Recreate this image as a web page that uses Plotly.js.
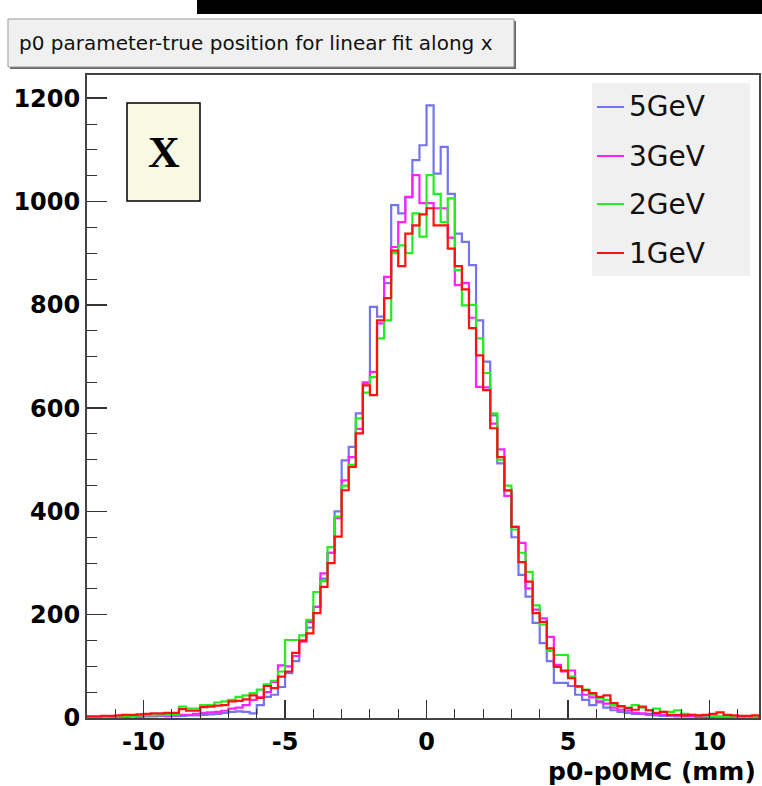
<!DOCTYPE html>
<html>
<head>
<meta charset="utf-8">
<script src="https://cdn.plot.ly/plotly-3.0.1.min.js"></script>
<style>html,body{margin:0;padding:0;background:#fff;}#chart{width:762px;height:786px;}</style>
</head>
<body>
<div id="chart"></div>
<script>
// ---- data (bin contents, bins of 0.25 mm from -12 to 12) ----
const binLow = -12;
const binWidth = 0.25;
const seriesNames = ["5GeV", "3GeV", "2GeV", "1GeV"];
const counts5GeV = [1,1,2,1,2,2,3,2,3,3,
 4,3,4,4,5,5,6,7,8,10,
 12,13,12,9,25,41,45,60,87,110,
 150,175,215,270,320,400,499,525,590,648,
 796,777,842,993,977,1008,1080,1109,1186,1054,
 1106,1015,938,922,877,770,690,586,493,440,
 350,277,235,184,145,110,68,68,62,45,
 35,25,30,20,15,12,10,8,8,6,
 5,4,4,3,3,3,2,2,2,2,
 2,2,1,1,1,1];
const counts3GeV = [2,2,2,3,3,2,3,3,4,4,
 5,5,5,6,6,8,10,11,12,14,
 18,20,25,35,40,50,70,102,100,120,
 148,186,215,280,320,387,460,505,560,650,
 670,764,854,912,960,1009,1051,997,997,987,
 987,930,838,842,775,641,640,570,520,430,
 370,339,251,210,193,157,103,90,92,62,
 45,40,32,28,20,16,14,10,9,8,
 7,6,5,5,4,4,3,3,3,2,
 2,2,2,2,1,1];
const counts2GeV = [1,2,2,3,3,4,4,5,5,5,
 6,6,7,22,18,18,25,25,30,32,
 35,41,44,48,55,65,72,90,151,151,
 160,190,244,265,331,390,450,490,580,630,
 660,735,770,900,915,900,977,932,1051,1015,
 960,1006,867,799,800,735,668,590,500,450,
 365,320,283,218,181,130,122,122,80,60,
 55,45,38,35,25,22,20,25,20,15,
 18,12,12,15,8,6,5,5,4,3,
 3,3,2,2,2,2];
const counts1GeV = [3,3,4,4,5,6,6,7,8,9,
 9,10,10,17,14,14,21,22,24,25,
 32,33,36,44,39,62,58,80,90,126,
 150,164,203,254,300,351,441,486,551,644,
 625,770,813,905,875,938,954,975,987,954,
 954,909,875,830,755,702,635,561,505,441,
 370,302,264,203,186,135,99,92,77,61,
 54,48,41,44,29,23,19,16,22,15,
 10,12,6,6,5,6,5,6,8,11,
 6,5,4,4,5,3];
const xTickVals = [-10, -5, 0, 5, 10];
const xTickText = ["-10", "-5", "0", "5", "10"];
const yTickVals = [0, 200, 400, 600, 800, 1000, 1200];
const titleText = "p0 parameter-true position for linear fit along x";
const xTitleText = "p0-p0MC (mm)";
const boxLabel = "X";

// ---- styling ----
const colors = ["#7474ee", "#ff22ff", "#22ee22", "#ff1111"];
const W = 762, H = 786, L = 87, R = 3, T = 75, B = 68;
const plotW = W - L - R, plotH = H - T - B;
const px = v => (v - L) / plotW;
const py = v => (H - B - v) / plotH;

function stepTrace(counts, name, color) {
  const xs = [], ys = [];
  for (let i = 0; i <= counts.length; i++) {
    xs.push(binLow + i * binWidth);
    ys.push(counts[Math.min(i, counts.length - 1)]);
  }
  return {x: xs, y: ys, type: "scatter", mode: "lines", name: name,
          line: {shape: "hv", color: color, width: 2.2}, showlegend: false, hoverinfo: "skip"};
}
const allCounts = [counts5GeV, counts3GeV, counts2GeV, counts1GeV];
const traces = allCounts.map((c, k) => stepTrace(c, seriesNames[k], colors[k]));

const shapes = [
  {type: "rect", xref: "paper", yref: "paper", x0: px(197), x1: px(762), y0: py(14), y1: py(0),
   fillcolor: "#000", line: {width: 0}},
  {type: "rect", xref: "paper", yref: "paper", x0: px(10), x1: px(516), y0: py(69), y1: py(21),
   fillcolor: "#666", line: {width: 0}},
  {type: "rect", xref: "paper", yref: "paper", x0: px(8), x1: px(514), y0: py(67), y1: py(19),
   fillcolor: "#f0f0f0", line: {width: 1, color: "#999"}},
  {type: "rect", xref: "paper", yref: "paper", x0: px(127), x1: px(200), y0: py(201), y1: py(103),
   fillcolor: "#f9f9e3", line: {width: 1.5, color: "#000"}},
  {type: "rect", xref: "paper", yref: "paper", x0: px(592), x1: px(750), y0: py(276), y1: py(83),
   fillcolor: "#f0f0f0", line: {width: 0}}
];
const legendY = [107, 156, 204, 253];
const annotations = [
  {xref: "paper", yref: "paper", x: px(17), y: py(43), xanchor: "left", yanchor: "middle",
   text: titleText, showarrow: false, font: {family: "DejaVu Sans", size: 20, color: "#111"}},
  {xref: "paper", yref: "paper", x: px(163.5), y: py(153), xanchor: "center", yanchor: "middle",
   text: boxLabel, showarrow: false, font: {family: "Liberation Serif", size: 44, color: "#000", weight: "bold"}},
  {xref: "paper", yref: "paper", x: px(758), y: py(771), xanchor: "right", yanchor: "middle",
   text: xTitleText, showarrow: false, font: {family: "DejaVu Sans", size: 25, color: "#000", weight: "bold"}}
];
seriesNames.forEach((n, k) => {
  shapes.push({type: "line", xref: "paper", yref: "paper", x0: px(597), x1: px(624),
    y0: py(legendY[k]), y1: py(legendY[k]), line: {color: colors[k], width: 2}});
  annotations.push({xref: "paper", yref: "paper", x: px(627), y: py(legendY[k]), xanchor: "left", yanchor: "middle",
    text: n, showarrow: false, font: {family: "DejaVu Sans", size: 28, color: "#111"}});
});

const axisCommon = {
  showgrid: false, zeroline: false, showline: true, mirror: true, linecolor: "#444", linewidth: 2,
  ticks: "inside", tickcolor: "#333", tickwidth: 1.5,
  tickfont: {family: "DejaVu Sans", size: 24, color: "#000", weight: "bold"}
};
const layout = {
  width: W, height: H, margin: {l: L, r: R, t: T, b: B},
  paper_bgcolor: "#fff", plot_bgcolor: "#fff", showlegend: false,
  xaxis: Object.assign({}, axisCommon, {range: [-12, 11.75], tickvals: xTickVals, ticktext: xTickText, ticklen: 18,
    ticklabelstandoff: 1, minor: {dtick: 1, tick0: 0, ticks: "inside", ticklen: 9, tickcolor: "#333", tickwidth: 1}}),
  yaxis: Object.assign({}, axisCommon, {range: [0, 1245], tickvals: yTickVals, ticklen: 20,
    ticklabelstandoff: 0, minor: {dtick: 50, tick0: 0, ticks: "inside", ticklen: 10, tickcolor: "#333", tickwidth: 1}}),
  shapes: shapes, annotations: annotations
};
Plotly.newPlot("chart", traces, layout, {staticPlot: true, displayModeBar: false});
</script>
</body>
</html>
